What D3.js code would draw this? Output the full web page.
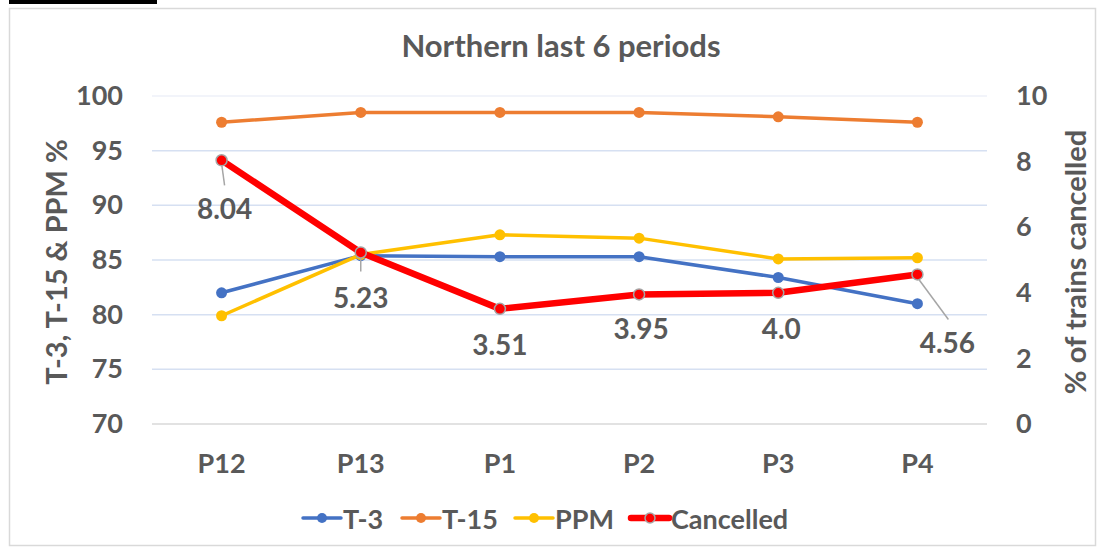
<!DOCTYPE html>
<html>
<head>
<meta charset="utf-8">
<script src="https://cdn.jsdelivr.net/npm/d3@7"></script>
<style>
  html, body { margin: 0; padding: 0; background: #fff; }
  svg text { font-family: Lato, "Open Sans", sans-serif; font-weight: bold; fill: #595959; }
</style>
</head>
<body>
<svg id="chart" width="1103" height="549"></svg>
<script>
const categories = ["P12", "P13", "P1", "P2", "P3", "P4"];
const t3 = [82.0, 85.4, 85.3, 85.3, 83.4, 81.0];
const t15 = [97.6, 98.5, 98.5, 98.5, 98.1, 97.6];
const ppm = [79.9, 85.5, 87.3, 87.0, 85.1, 85.2];
const cancelled = [8.04, 5.23, 3.51, 3.95, 4.0, 4.56];
const cancelledLabels = ["8.04", "5.23", "3.51", "3.95", "4.0", "4.56"];
const leftTicks = [70, 75, 80, 85, 90, 95, 100];
const rightTicks = [0, 2, 4, 6, 8, 10];

const svg = d3.select("#chart");
const plot = { left: 152, right: 987, top: 96, bottom: 424 };

// frame
svg.append("rect").attr("x", 9.5).attr("y", 8.5).attr("width", 1086).attr("height", 537)
  .attr("fill", "#fff").attr("stroke", "#d9d9d9").attr("stroke-width", 1.5);
svg.append("rect").attr("x", 9).attr("y", 0).attr("width", 148).attr("height", 4).attr("fill", "#000");

const x = d3.scaleBand().domain(categories).range([plot.left, plot.right]);
const xc = c => x(c) + x.bandwidth() / 2;
const yL = d3.scaleLinear().domain([70, 100]).range([plot.bottom, plot.top]);
const yR = d3.scaleLinear().domain([0, 10]).range([plot.bottom, plot.top]);

// gridlines
svg.append("g").selectAll("line").data(leftTicks).join("line")
  .attr("x1", plot.left).attr("x2", plot.right)
  .attr("y1", d => yL(d)).attr("y2", d => yL(d))
  .attr("stroke", d => d === 70 ? "#d9d9d9" : (d === 100 ? "#eef0f8" : "#d6e0f2"))
  .attr("stroke-width", 1.5);

// left axis
const axL = svg.append("g").attr("transform", `translate(${plot.left},0)`)
  .call(d3.axisLeft(yL).tickValues(leftTicks).tickSize(0).tickPadding(29));
axL.select(".domain").remove();
axL.selectAll("text").style("font-size", "27px").attr("fill", "#595959");

// right axis
const axR = svg.append("g").attr("transform", `translate(${plot.right},0)`)
  .call(d3.axisRight(yR).tickValues(rightTicks).tickSize(0).tickPadding(29));
axR.select(".domain").remove();
axR.selectAll("text").style("font-size", "27px").attr("fill", "#595959");

// x axis labels
const axB = svg.append("g").attr("transform", `translate(0,${plot.bottom})`)
  .call(d3.axisBottom(x).tickSize(0).tickPadding(30));
axB.select(".domain").remove();
axB.selectAll("text").style("font-size", "27px").attr("fill", "#595959");

// title
svg.append("text").attr("x", 561).attr("y", 45).attr("text-anchor", "middle")
  .attr("dominant-baseline", "central").style("font-size", "31px").text("Northern last 6 periods");

// axis titles
svg.append("text").attr("transform", "translate(55,262) rotate(-90)").attr("text-anchor", "middle")
  .attr("dominant-baseline", "central").style("font-size", "29px").text("T-3, T-15 & PPM %");
svg.append("text").attr("transform", "translate(1074,262) rotate(-90)").attr("text-anchor", "middle")
  .attr("dominant-baseline", "central").style("font-size", "29px").text("% of trains cancelled");

// series
const seriesDefs = [
  { name: "T-3", values: t3, color: "#4472C4", scale: yL, width: 3.5 },
  { name: "T-15", values: t15, color: "#ED7D31", scale: yL, width: 3.5 },
  { name: "PPM", values: ppm, color: "#FFC000", scale: yL, width: 3.5 },
];
seriesDefs.forEach(s => {
  const line = d3.line().x((d, i) => xc(categories[i])).y(d => s.scale(d));
  svg.append("path").datum(s.values).attr("d", line).attr("fill", "none")
    .attr("stroke", s.color).attr("stroke-width", s.width).attr("stroke-linejoin", "round");
  svg.append("g").selectAll("circle").data(s.values).join("circle")
    .attr("cx", (d, i) => xc(categories[i])).attr("cy", d => s.scale(d)).attr("r", 5.5)
    .attr("fill", s.color);
});

// cancelled
const cLine = d3.line().x((d, i) => xc(categories[i])).y(d => yR(d));
svg.append("path").datum(cancelled).attr("d", cLine).attr("fill", "none")
  .attr("stroke", "#FF0000").attr("stroke-width", 6.5).attr("stroke-linejoin", "round");

// label leader lines & labels
const labelOffsets = [[3, 48], [0, 45], [0, 35], [2, 34], [3, 35], [30, 68]];
const leaders = [[3, 25], [0, 19], null, null, null, [31, 45]];
cancelled.forEach((v, i) => {
  const cx = xc(categories[i]), cy = yR(v);
  if (leaders[i]) {
    svg.append("line").attr("x1", cx).attr("y1", cy + 3).attr("x2", cx + leaders[i][0]).attr("y2", cy + leaders[i][1])
      .attr("stroke", "#a6a6a6").attr("stroke-width", 1.5);
  }
});
svg.append("g").selectAll("circle").data(cancelled).join("circle")
  .attr("cx", (d, i) => xc(categories[i])).attr("cy", d => yR(d)).attr("r", 5.5)
  .attr("fill", "#FF0000").attr("stroke", "#a5a5a5").attr("stroke-width", 1.5);
svg.append("g").selectAll("text").data(cancelled).join("text")
  .attr("x", (d, i) => xc(categories[i]) + labelOffsets[i][0])
  .attr("y", (d, i) => yR(d) + labelOffsets[i][1])
  .attr("text-anchor", "middle").attr("dominant-baseline", "central")
  .style("font-size", "28px").attr("fill", "#404040")
  .text((d, i) => cancelledLabels[i]);

// legend
const legendItems = [
  { name: "T-3", color: "#4472C4", x: 303, w: 3.5, stroke: null },
  { name: "T-15", color: "#ED7D31", x: 402, w: 3.5, stroke: null },
  { name: "PPM", color: "#FFC000", x: 515, w: 3.5, stroke: null },
  { name: "Cancelled", color: "#FF0000", x: 631, w: 6.5, stroke: "#a5a5a5" },
];
const ly = 518;
legendItems.forEach(it => {
  svg.append("line").attr("x1", it.x).attr("x2", it.x + 38).attr("y1", ly).attr("y2", ly)
    .attr("stroke", it.color).attr("stroke-width", it.w).attr("stroke-linecap", "round");
  svg.append("circle").attr("cx", it.x + 19).attr("cy", ly).attr("r", 5)
    .attr("fill", it.color).attr("stroke", it.stroke || "none").attr("stroke-width", 1.5);
  svg.append("text").attr("x", it.x + 40).attr("y", ly).attr("dominant-baseline", "central")
    .style("font-size", "27px").text(it.name);
});
</script>
</body>
</html>
